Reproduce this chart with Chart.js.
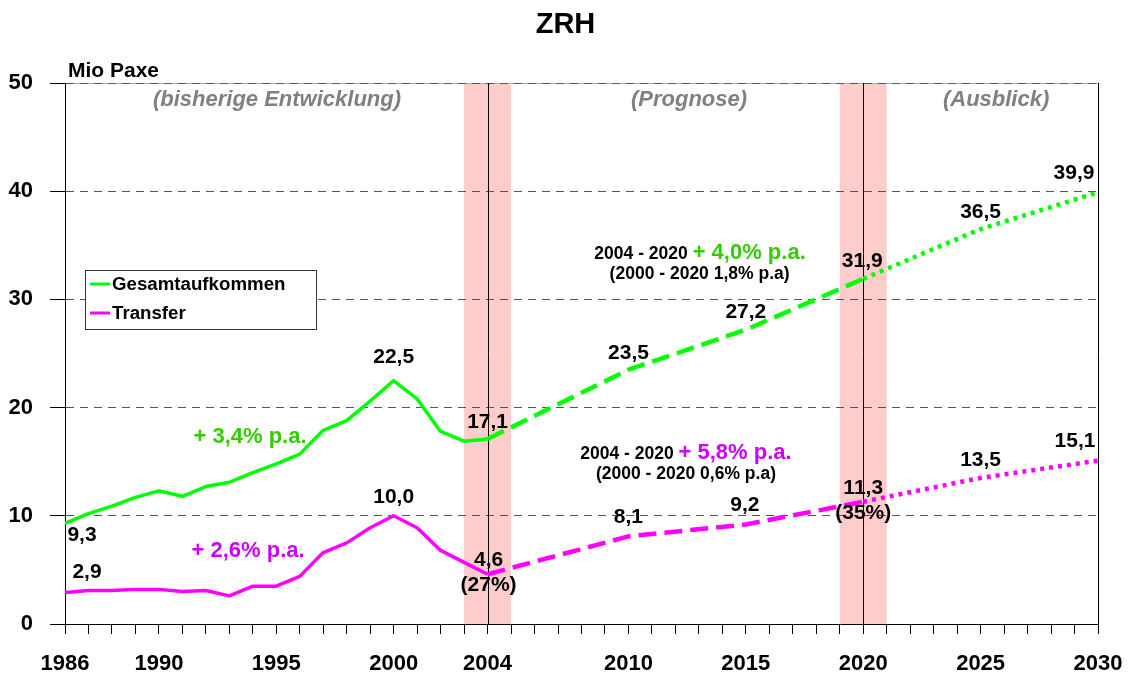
<!DOCTYPE html>
<html><head><meta charset="utf-8">
<script src="https://cdn.jsdelivr.net/npm/chart.js@4.4.0/dist/chart.umd.min.js"></script>
<style>html,body{margin:0;padding:0;background:#fff}#wrap{width:1131px;height:675px;position:relative}</style>
</head><body><div id="wrap"><canvas id="c"></canvas></div>
<script>
// ---- data ----
const years = [1986,1987,1988,1989,1990,1991,1992,1993,1994,1995,1996,1997,1998,1999,2000,2001,2002,2003,2004,2010,2015,2020,2025,2030];
const gesamt = [9.3,10.2,10.9,11.7,12.3,11.8,12.7,13.1,14.0,14.8,15.7,17.9,18.8,20.6,22.5,20.8,17.8,16.9,17.1,23.5,27.2,31.9,36.5,39.9];
const transfer = [2.9,3.1,3.1,3.2,3.2,3.0,3.1,2.6,3.5,3.5,4.4,6.6,7.5,8.9,10.0,8.9,6.8,5.7,4.6,8.1,9.2,11.3,13.5,15.1];
const xTickLabels = [1986,1990,1995,2000,2004,2010,2015,2020,2025,2030];
const yTicks = [0,10,20,30,40,50];
const bandRanges = [[2003,2005],[2019,2021]];
const markerYears = [2004,2020];
const seriesNames = ['Gesamtaufkommen','Transfer'];
const forecastStart = 2004, outlookStart = 2020;

// ---- styles / label placement ----
const FONT = 'Liberation Sans, Arial, sans-serif';
const lineColors = ['#00ff00','#ff00ff'];
const textColors = ['#33cc00','#cc00ff'];
const allYears = []; for (let y = 1986; y <= 2030; y++) allYears.push(y);

// [series, year, dx, dy, extra text]
const valueLabels = [
  [0,1986,17,12],[0,2000,0,-23],[0,2004,0,-17],[0,2010,0,-17],[0,2015,0,-17],[0,2020,-1,-18],[0,2025,0,-17],[0,2030,-24,-19],
  [1,1986,22,-20],[1,2000,0,-19],[1,2004,1,-14,'(27%)'],[1,2010,0,-19],[1,2015,-1,-19],[1,2020,0,-14,'(35%)'],[1,2025,0,-18],[1,2030,-23,-19]
];
const fmt = v => v.toFixed(1).replace('.', ',');

function segDash(ctx) {
  const x = ctx.p0.parsed.x;
  if (x >= outlookStart) return [4,5];
  if (x >= forecastStart) return [18,8];
  return undefined;
}
function segWidth(ctx) {
  return ctx.p0.parsed.x >= forecastStart ? 4.5 : 3.5;
}

const decor = {
  id: 'decor',
  beforeDraw(chart) {
    const {ctx, chartArea: a, scales: {x}} = chart;
    ctx.save();
    ctx.fillStyle = '#fff';
    ctx.fillRect(0, 0, chart.width, chart.height);
    ctx.fillStyle = '#ffcccc';
    bandRanges.forEach(([s, e]) => {
      const x1 = x.getPixelForValue(s), x2 = x.getPixelForValue(e);
      ctx.fillRect(x1, a.top, x2 - x1, a.bottom - a.top);
    });
    ctx.strokeStyle = '#aaa';
    ctx.lineWidth = 1;
    ctx.beginPath(); ctx.moveTo(a.left, a.top + 0.5); ctx.lineTo(a.right, a.top + 0.5); ctx.stroke();
    ctx.restore();
  },
  beforeDatasetsDraw(chart) {
    const {ctx, chartArea: a, scales: {x}} = chart;
    ctx.save();
    ctx.strokeStyle = '#000';
    ctx.lineWidth = 1;
    markerYears.concat([2030]).forEach(yr => {
      const px = Math.round(x.getPixelForValue(yr)) + 0.5;
      ctx.beginPath(); ctx.moveTo(px, a.top); ctx.lineTo(px, a.bottom); ctx.stroke();
    });
    ctx.restore();
  },
  afterDraw(chart) {
    const {ctx, chartArea: a, scales: {x, y}} = chart;
    ctx.save();
    ctx.textBaseline = 'middle';
    const txt = (t, px, py, size, color, style, align) => {
      ctx.font = (style || 'bold') + ' ' + size + 'px ' + FONT;
      ctx.fillStyle = color; ctx.textAlign = align || 'center';
      ctx.fillText(t, px, py);
    };
    // axis unit
    txt('Mio Paxe', a.left + 3, a.top - 12, 21, '#000', 'bold', 'left');
    // period captions
    txt('(bisherige Entwicklung)', x.getPixelForValue(1995.03), y.getPixelForValue(48.43), 22, '#808080', 'italic bold');
    txt('(Prognose)', x.getPixelForValue(2012.58), y.getPixelForValue(48.43), 22, '#808080', 'italic bold');
    txt('(Ausblick)', x.getPixelForValue(2025.66), y.getPixelForValue(48.43), 22, '#808080', 'italic bold');
    // growth annotations
    txt('+ 3,4% p.a.', x.getPixelForValue(1993.88), y.getPixelForValue(17.28), 22, textColors[0]);
    txt('+ 2,6% p.a.', x.getPixelForValue(1993.8), y.getPixelForValue(6.75), 22, textColors[1]);
    const combo = (a1, b1, color, cx, cy) => {
      ctx.font = 'bold 17.5px ' + FONT; const w1 = ctx.measureText(a1 + ' ').width;
      ctx.font = 'bold 22px ' + FONT; const w2 = ctx.measureText(b1).width;
      const left = cx - (w1 + w2) / 2;
      txt(a1 + ' ', left, cy + 1, 17.5, '#000', 'bold', 'left');
      txt(b1, left + w1, cy, 22, color, 'bold', 'left');
    };
    combo('2004 - 2020', '+ 4,0% p.a.', textColors[0], x.getPixelForValue(2013.05), y.getPixelForValue(34.29));
    txt('(2000 - 2020 1,8% p.a)', x.getPixelForValue(2013.03), y.getPixelForValue(32.35), 17.5, '#000');
    combo('2004 - 2020', '+ 5,8% p.a.', textColors[1], x.getPixelForValue(2012.45), y.getPixelForValue(15.80));
    txt('(2000 - 2020 0,6% p.a)', x.getPixelForValue(2012.45), y.getPixelForValue(13.86), 17.5, '#000');
    // value labels
    const sets = [gesamt, transfer];
    valueLabels.forEach(([s, yr, dx, dy, extra]) => {
      const i = years.indexOf(yr);
      const px = x.getPixelForValue(yr), py = y.getPixelForValue(sets[s][i]);
      txt(fmt(sets[s][i]), px + dx, py + dy, 21, '#000');
      if (extra) txt(extra, px + dx, py + dy + 25, 21, '#000');
    });
    // legend
    ctx.fillStyle = '#fff';
    ctx.fillRect(85.5, 270.5, 231, 59);
    ctx.strokeStyle = '#333'; ctx.lineWidth = 1;
    ctx.strokeRect(85.5, 270.5, 231, 59);
    chart.data.datasets.forEach((ds, k) => {
      const ly = 284 + k * 29;
      ctx.strokeStyle = ds.borderColor; ctx.lineWidth = 3;
      ctx.beginPath(); ctx.moveTo(90, ly); ctx.lineTo(110, ly); ctx.stroke();
      txt(ds.label, 112, ly + 1, 18.7, '#000', 'bold', 'left');
    });
    ctx.restore();
  }
};

const tickFont = {family: FONT, size: 22, weight: 'bold'};
new Chart(document.getElementById('c'), {
  type: 'line',
  data: {
    datasets: [gesamt, transfer].map((vals, k) => ({
      label: seriesNames[k],
      data: years.map((yr, i) => ({x: yr, y: vals[i]})),
      borderColor: lineColors[k],
      borderWidth: 3.5,
      pointRadius: 0,
      tension: 0,
      borderCapStyle: 'butt',
      borderJoinStyle: 'round',
      segment: {borderDash: segDash, borderWidth: segWidth}
    }))
  },
  options: {
    responsive: true, maintainAspectRatio: false, animation: false,
    layout: {padding: 0},
    plugins: {
      legend: {display: false}, tooltip: {enabled: false},
      title: {display: true, text: 'ZRH', color: '#000', font: {family: FONT, size: 29, weight: 'bold'}, padding: {top: 8, bottom: 40.2}}
    },
    scales: {
      x: {
        type: 'linear', min: 1986, max: 2030,
        afterBuildTicks: s => { s.ticks = allYears.map(v => ({value: v})); },
        afterFit: s => { s.height = 51; s.paddingRight = 33; s.paddingLeft = 0; },
        ticks: {autoSkip: false, maxRotation: 0, minRotation: 0, padding: 17, color: '#000', font: tickFont,
          callback: v => xTickLabels.includes(v) ? String(v) : ''},
        grid: {drawOnChartArea: false, drawTicks: true, tickLength: 10, tickColor: '#000', tickWidth: 1},
        border: {display: true, color: '#000', width: 1}
      },
      y: {
        min: 0, max: 50,
        afterBuildTicks: s => { s.ticks = yTicks.map(v => ({value: v})); },
        afterFit: s => { s.width = 65; s.paddingTop = 0; s.paddingBottom = 0; },
        ticks: {padding: 17, color: '#000', font: tickFont},
        grid: {color: c => (c.tick && c.tick.value === 0) ? 'rgba(0,0,0,0)' : '#555', lineWidth: 1, tickLength: 15, tickColor: '#000', drawTicks: true},
        border: {display: true, color: '#000', width: 1, dash: [8, 6]}
      }
    }
  },
  plugins: [decor]
});
</script>
</body></html>
